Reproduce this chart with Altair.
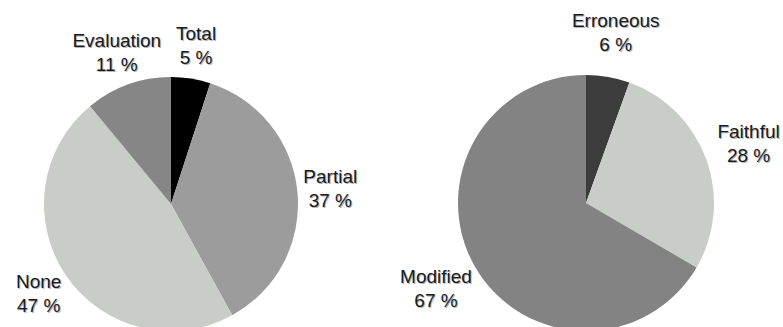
import altair as alt
import pandas as pd

# Left pie
left_cats = ["Total", "Partial", "None", "Evaluation"]
left_vals = [5, 37, 47, 11]
left_pcts = ["5 %", "37 %", "47 %", "11 %"]
left_colors = ["#000000", "#9c9c9c", "#c9cdc8", "#868686"]

# Right pie
right_cats = ["Erroneous", "Faithful", "Modified"]
right_vals = [5.5, 27.9, 66.6]
right_pcts = ["6 %", "28 %", "67 %"]
right_colors = ["#3c3c3c", "#c9cdc8", "#838383"]

FONT = "Liberation Sans, Arial, Helvetica, sans-serif"
LH = 24


def make_df(cats, vals, pcts):
    return pd.DataFrame({
        "cat": cats,
        "val": vals,
        "label": [f"{c}\n{p}" for c, p in zip(cats, pcts)],
        "idx": list(range(len(cats))),
    })


def pie(df, colors, cx, cy, r, label_r):
    base = alt.Chart(df).encode(
        theta=alt.Theta("val:Q", stack=True),
        order=alt.Order("idx:Q"),
        x=alt.value(cx),
        y=alt.value(cy),
    )
    arcs = base.mark_arc(outerRadius=r, strokeWidth=0).encode(
        color=alt.Color("cat:N", scale=alt.Scale(domain=list(df["cat"]), range=colors), legend=None)
    )
    shadow = base.mark_text(
        radius=label_r, fontSize=19, font=FONT, lineBreak="\n", lineHeight=LH,
        align="center", baseline="middle", color="#b5b5b5", dx=1, dy=1 - LH / 2,
    ).encode(text="label:N")
    text = base.mark_text(
        radius=label_r, fontSize=19, font=FONT, lineBreak="\n", lineHeight=LH,
        align="center", baseline="middle", color="#1a1a1a", dy=-LH / 2,
    ).encode(text="label:N")
    return [arcs, shadow, text]


layers = pie(make_df(left_cats, left_vals, left_pcts), left_colors, 171, 204, 127, 160) + \
    pie(make_df(right_cats, right_vals, right_pcts), right_colors, 586, 203, 128, 173)

chart = alt.layer(*layers).resolve_scale(
    theta="independent", color="independent"
).properties(
    width=783, height=327, autosize=alt.AutoSizeParams(type="none"), padding=0,
    background="#ffffff",
).configure_view(stroke=None)

chart.save("out.html", embed_options={"renderer": "svg", "actions": False})
